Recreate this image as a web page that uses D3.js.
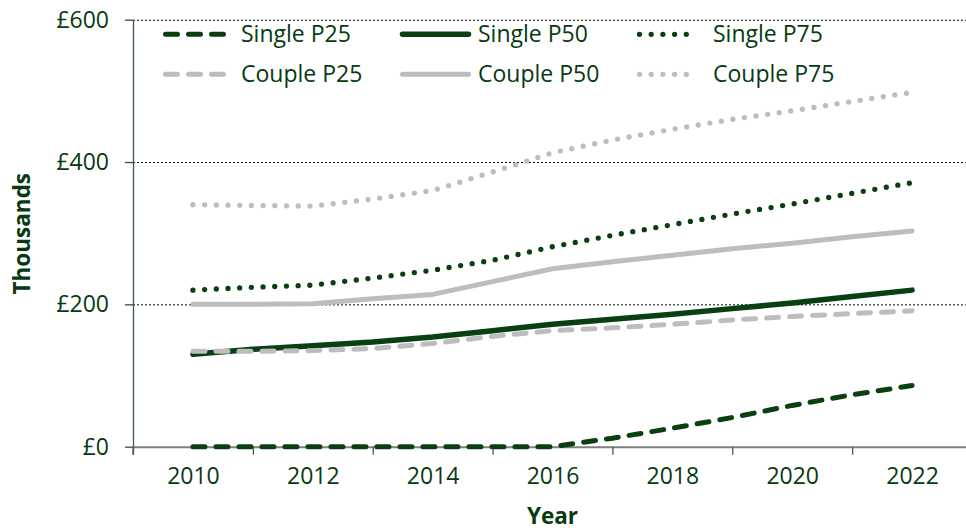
<!DOCTYPE html>
<html>
<head>
<meta charset="utf-8">
<script src="https://cdn.jsdelivr.net/npm/d3@7"></script>
<style>
    body { margin: 0; background: #ffffff; }
    #wrapper { width: 966px; height: 532px; overflow: hidden; }
    text { font-family: "Open Sans", "Noto Sans", sans-serif; }
</style>
</head>
<body>
<div id="wrapper"></div>
<script>
// chart values (thousands of pounds)
const years = [2010, 2011, 2012, 2013, 2014, 2015, 2016, 2017, 2018, 2019, 2020, 2021, 2022]
const singleP25 = [0, 0, 0, 0, 0, 0, 0, 12, 26, 41, 58, 73, 86]
const singleP50 = [130, 137, 142, 147, 154, 163, 172, 179, 186, 194, 202, 211, 220]
const singleP75 = [220, 224, 227, 237, 248, 262, 281, 297, 312, 327, 341, 356, 371]
const coupleP25 = [134, 134, 135, 138, 145, 155, 163, 167, 172, 178, 183, 187, 191]
const coupleP50 = [200, 200, 201, 208, 214, 232, 250, 260, 269, 278, 286, 295, 303]
const coupleP75 = [340, 339, 338, 348, 360, 386, 413, 431, 446, 460, 472, 485, 498]
const seriesNames = ["Single P25", "Single P50", "Single P75", "Couple P25", "Couple P50", "Couple P75"]
const yTickValues = [0, 200, 400, 600]
const xLabelYears = [2010, 2012, 2014, 2016, 2018, 2020, 2022]
const xTickYears = [2009, 2011, 2013, 2015, 2017, 2019, 2021]

function drawLineChart() {
    const seriesValues = [singleP25, singleP50, singleP75, coupleP25, coupleP50, coupleP75]
    const dataset = seriesNames.map((name, i) => ({
        name: name,
        values: years.map((year, j) => ({ year: year, value: seriesValues[i][j] }))
    }))

    const xAccessor = d => d.year
    const yAccessor = d => d.value

    const darkGreen = "#0a3f12"
    const lightGrey = "#bdbdbd"
    const textColor = "#073a10"

    // look of each series: colour + dash pattern
    const seriesStyle = {
        "Single P25": { color: darkGreen, dash: "12,11", width: 5 },
        "Single P50": { color: darkGreen, dash: null, width: 5.5 },
        "Single P75": { color: darkGreen, dash: "0,11.7", width: 5.3 },
        "Couple P25": { color: lightGrey, dash: "12,11", width: 5 },
        "Couple P50": { color: lightGrey, dash: null, width: 5 },
        "Couple P75": { color: lightGrey, dash: "0,11.7", width: 5.3 },
    }

    let dimensions = {
        width: 966,
        height: 532,
        margin: { top: 19.7, right: -6, bottom: 85.3, left: 133 },
    }
    dimensions.boundWidth = dimensions.width - dimensions.margin.left - dimensions.margin.right
    dimensions.boundHeight = dimensions.height - dimensions.margin.top - dimensions.margin.bottom

    const wrapper = d3.select("#wrapper")
        .append("svg")
            .attr("width", dimensions.width)
            .attr("height", dimensions.height)

    const bound = wrapper.append("g")
        .attr("transform", `translate(${dimensions.margin.left},${dimensions.margin.top})`)

    // scales
    const xScale = d3.scaleLinear()
        .domain([2009, 2023])
        .range([0, dimensions.boundWidth])

    const yScale = d3.scaleLinear()
        .domain([0, 600])
        .range([dimensions.boundHeight, 0])

    // dotted gridlines at 200 / 400 / 600
    const grid = bound.append("g")
        .call(d3.axisLeft(yScale)
            .tickValues(yTickValues.filter(v => v > 0))
            .tickSize(-dimensions.boundWidth)
            .tickFormat(""))
    grid.select(".domain").remove()
    grid.selectAll("line")
        .attr("stroke", "#000")
        .attr("stroke-width", 1)
        .attr("stroke-dasharray", "2,2")

    // x axis: baseline + tick marks between label pairs
    const xTickAxis = bound.append("g")
        .attr("transform", `translate(0,${dimensions.boundHeight})`)
        .call(d3.axisBottom(xScale)
            .tickValues(xTickYears)
            .tickSize(8)
            .tickSizeOuter(0)
            .tickFormat(""))
    xTickAxis.select(".domain").attr("stroke", "#808080").attr("stroke-width", 2)
    xTickAxis.selectAll(".tick line").attr("stroke", "#555").attr("stroke-width", 1.3)

    // x labels
    const xLabelAxis = bound.append("g")
        .attr("transform", `translate(0,${dimensions.boundHeight})`)
        .call(d3.axisBottom(xScale)
            .tickValues(xLabelYears)
            .tickSize(0)
            .tickPadding(21)
            .tickFormat(d3.format("d")))
    xLabelAxis.select(".domain").remove()
    xLabelAxis.selectAll("text")
        .attr("fill", textColor)
        .style("font-size", "23px")

    // y axis
    const yAxis = bound.append("g")
        .call(d3.axisLeft(yScale)
            .tickValues(yTickValues)
            .tickSize(8)
            .tickSizeOuter(0)
            .tickPadding(16)
            .tickFormat(d => "£" + d))
    yAxis.select(".domain").attr("stroke", "#3d5e3d").attr("stroke-width", 1.3)
    yAxis.selectAll(".tick line").attr("stroke", "#444").attr("stroke-width", 1.3)
    yAxis.selectAll("text")
        .attr("fill", textColor)
        .style("font-size", "23px")

    // y axis line continues below the baseline
    bound.append("line")
        .attr("x1", 0).attr("x2", 0)
        .attr("y1", dimensions.boundHeight)
        .attr("y2", dimensions.boundHeight + 8)
        .attr("stroke", "#3d5e3d")
        .attr("stroke-width", 1.3)

    // the lines
    const lineGenerator = d3.line()
        .x(d => xScale(xAccessor(d)))
        .y(d => yScale(yAccessor(d)))

    bound.selectAll(".series")
        .data(dataset)
        .join("path")
            .attr("class", "series")
            .attr("d", d => lineGenerator(d.values))
            .attr("fill", "none")
            .attr("stroke", d => seriesStyle[d.name].color)
            .attr("stroke-width", d => seriesStyle[d.name].width)
            .attr("stroke-dasharray", d => seriesStyle[d.name].dash)
            .attr("stroke-linecap", "round")
            .attr("stroke-linejoin", "round")

    // legend, 3 columns x 2 rows
    const legendCols = [
        { swatchX: 163, swatchW: 63, textX: 241 },
        { swatchX: 400, swatchW: 71, textX: 478 },
        { swatchX: 637, swatchW: 61, textX: 713 },
    ]
    const legendRows = [34.3, 74.3]

    const legend = wrapper.append("g")
    const legendItems = legend.selectAll("g")
        .data(dataset)
        .join("g")
            .attr("transform", (d, i) => `translate(0,${legendRows[Math.floor(i / 3)]})`)

    legendItems.append("line")
        .attr("x1", (d, i) => legendCols[i % 3].swatchX + 2.5)
        .attr("x2", (d, i) => legendCols[i % 3].swatchX + legendCols[i % 3].swatchW - 2.5)
        .attr("stroke", d => seriesStyle[d.name].color)
        .attr("stroke-width", d => seriesStyle[d.name].width)
        .attr("stroke-dasharray", d => seriesStyle[d.name].dash)
        .attr("stroke-linecap", "round")

    legendItems.append("text")
        .attr("x", (d, i) => legendCols[i % 3].textX)
        .attr("dy", "0.35em")
        .attr("fill", textColor)
        .style("font-size", "23px")
        .text(d => d.name)

    // axis titles
    wrapper.append("text")
        .attr("transform", `translate(22,${dimensions.margin.top + 214}) rotate(-90)`)
        .attr("text-anchor", "middle")
        .attr("dy", "0.35em")
        .attr("fill", textColor)
        .style("font-size", "22.5px")
        .style("font-weight", "bold")
        .text("Thousands")

    wrapper.append("text")
        .attr("x", 552.5)
        .attr("y", 524)
        .attr("text-anchor", "middle")
        .attr("fill", textColor)
        .style("font-size", "22.5px")
        .style("font-weight", "bold")
        .text("Year")
}

drawLineChart()
</script>
</body>
</html>
